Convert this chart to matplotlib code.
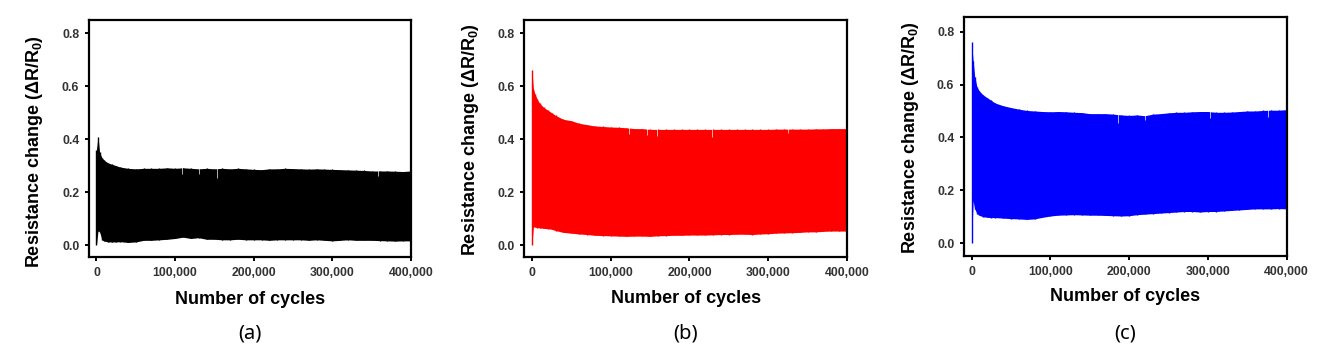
import matplotlib
matplotlib.use("Agg")
import matplotlib.pyplot as plt
from matplotlib.ticker import FuncFormatter

plt.rcParams['font.family'] = ['Liberation Sans', 'DejaVu Sans']
plt.rcParams['mathtext.fontset'] = 'custom'
plt.rcParams['mathtext.rm'] = 'Liberation Sans'
plt.rcParams['mathtext.bf'] = 'Liberation Sans:bold'

# ---------------- data ----------------
cycles = [0, 2000, 4000, 7000, 10000, 15000, 20000, 25000, 30000, 40000,
          50000, 60000, 70000, 80000, 90000, 100000, 110000, 120000, 130000, 140000,
          150000, 160000, 170000, 180000, 190000, 200000, 210000, 220000, 230000, 240000,
          250000, 260000, 270000, 280000, 290000, 300000, 310000, 320000, 330000, 340000,
          350000, 360000, 370000, 380000, 390000, 400000]

upper_a = [0.36, 0.41, 0.35, 0.33, 0.32, 0.31, 0.305, 0.30, 0.295, 0.29,
           0.288, 0.29, 0.29, 0.29, 0.292, 0.29, 0.292, 0.29, 0.288, 0.29,
           0.288, 0.29, 0.288, 0.29, 0.288, 0.286, 0.285, 0.288, 0.288, 0.29,
           0.289, 0.288, 0.287, 0.288, 0.287, 0.286, 0.285, 0.284, 0.283, 0.282,
           0.28, 0.28, 0.28, 0.279, 0.278, 0.28]
lower_a = [0.0, 0.055, 0.05, 0.02, 0.015, 0.012, 0.012, 0.012, 0.013, 0.01,
           0.012, 0.018, 0.018, 0.02, 0.022, 0.025, 0.03, 0.025, 0.028, 0.022,
           0.022, 0.02, 0.02, 0.022, 0.02, 0.02, 0.02, 0.018, 0.02, 0.02,
           0.02, 0.02, 0.018, 0.02, 0.018, 0.016, 0.018, 0.02, 0.018, 0.018,
           0.018, 0.017, 0.016, 0.015, 0.016, 0.016]
dip_cycles_a = [109000, 131000, 153000, 357600]
dip_values_a = [0.267, 0.27, 0.252, 0.262]

upper_b = [0.66, 0.59, 0.57, 0.55, 0.535, 0.52, 0.51, 0.50, 0.49, 0.475,
           0.47, 0.46, 0.455, 0.45, 0.448, 0.446, 0.445, 0.443, 0.44, 0.44,
           0.437, 0.437, 0.437, 0.437, 0.437, 0.437, 0.437, 0.437, 0.437, 0.437,
           0.437, 0.437, 0.437, 0.437, 0.437, 0.437, 0.438, 0.438, 0.438, 0.438,
           0.438, 0.439, 0.439, 0.44, 0.44, 0.44]
lower_b = [0.0, 0.07, 0.068, 0.066, 0.065, 0.063, 0.062, 0.06, 0.055, 0.048,
           0.045, 0.042, 0.04, 0.037, 0.036, 0.035, 0.034, 0.033, 0.034, 0.034,
           0.033, 0.035, 0.036, 0.037, 0.037, 0.038, 0.038, 0.038, 0.039, 0.04,
           0.04, 0.041, 0.041, 0.04, 0.042, 0.043, 0.045, 0.046, 0.047, 0.048,
           0.05, 0.05, 0.052, 0.053, 0.053, 0.053]
dip_cycles_b = [123000, 145600, 158300, 228000, 325000]
dip_values_b = [0.418, 0.416, 0.412, 0.41, 0.425]

upper_c = [0.76, 0.69, 0.63, 0.59, 0.575, 0.56, 0.55, 0.54, 0.53, 0.52,
           0.513, 0.507, 0.502, 0.50, 0.498, 0.497, 0.498, 0.497, 0.495, 0.494,
           0.49, 0.49, 0.49, 0.488, 0.485, 0.483, 0.485, 0.482, 0.488, 0.49,
           0.493, 0.495, 0.495, 0.497, 0.498, 0.498, 0.495, 0.495, 0.496, 0.498,
           0.50, 0.50, 0.502, 0.503, 0.503, 0.505]
lower_c = [0.0, 0.16, 0.13, 0.112, 0.105, 0.10, 0.098, 0.097, 0.097, 0.095,
           0.093, 0.092, 0.09, 0.092, 0.098, 0.103, 0.106, 0.107, 0.108, 0.107,
           0.106, 0.106, 0.105, 0.104, 0.103, 0.104, 0.108, 0.11, 0.112, 0.114,
           0.116, 0.118, 0.12, 0.12, 0.118, 0.12, 0.12, 0.122, 0.124, 0.126,
           0.128, 0.13, 0.13, 0.13, 0.131, 0.13]
dip_cycles_c = [185400, 220000, 302700, 376700]
dip_values_c = [0.456, 0.466, 0.472, 0.476]

panel_labels = ['(a)', '(b)', '(c)']
x_ticks = [0, 100000, 200000, 300000, 400000]
y_ticks = [0.0, 0.2, 0.4, 0.6, 0.8]

# ---------------- figure ----------------
fig = plt.figure(figsize=(13.36, 3.61), dpi=100)

panels = [
    (upper_a, lower_a, dip_cycles_a, dip_values_a, 'black',
     [0.0666, 0.288, 0.241, 0.6565], (-0.045, 0.85), (-0.168, 0.443), -0.181),
    (upper_b, lower_b, dip_cycles_b, dip_values_b, '#ff0000',
     [0.3925, 0.288, 0.2415, 0.6565], (-0.045, 0.85), (-0.168, 0.495), -0.173),
    (upper_c, lower_c, dip_cycles_c, dip_values_c, '#0000ff',
     [0.7216, 0.291, 0.2415, 0.661], (-0.048, 0.854), (-0.165, 0.497), -0.170),
]

fmt = FuncFormatter(lambda v, p: f"{int(v):,}")

for i, (up, lo, dc, dv, col, rect, ylim, ylab_xy, xlab_y) in enumerate(panels):
    ax = fig.add_axes(rect)
    ax.fill_between(cycles, lo, up, color=col, linewidth=0)
    ax.vlines(cycles, lo, up, color=col, linewidth=1.0)
    tops = [up[min(range(len(cycles)), key=lambda k: abs(cycles[k] - c))] + 0.01 for c in dc]
    ax.vlines(dc, dv, tops, color='white', linewidth=0.6, alpha=0.8)
    ax.set_xlim(-9500, 400000)
    ax.set_ylim(*ylim)
    ax.set_xticks(x_ticks)
    ax.set_yticks(y_ticks)
    ax.xaxis.set_major_formatter(fmt)
    ax.yaxis.set_major_formatter(FuncFormatter(lambda v, p: f"{v:.1f}"))
    for s in ax.spines.values():
        s.set_linewidth(1.6)
    ax.tick_params(direction='out', length=3, width=1.4, labelsize=8.8,
                   labelcolor='#333333', pad=4)
    for t in ax.get_xticklabels() + ax.get_yticklabels():
        t.set_fontweight('bold')
    ax.set_xlabel('Number of cycles', fontsize=13, fontweight='bold', va='center')
    ax.xaxis.set_label_coords(0.5, xlab_y)
    ax.set_ylabel(r'Resistance change (ΔR/R$_\mathbf{0}$)', fontsize=13,
                  fontweight='bold', va='center')
    ax.yaxis.set_label_coords(*ylab_xy)
    cx = rect[0] + rect[2] / 2
    fig.text(cx, 1 - 333 / 361, panel_labels[i], ha='center', va='center',
             fontsize=14.5, family=['Noto Sans', 'DejaVu Sans'])

fig.savefig('out.png', dpi=100)
